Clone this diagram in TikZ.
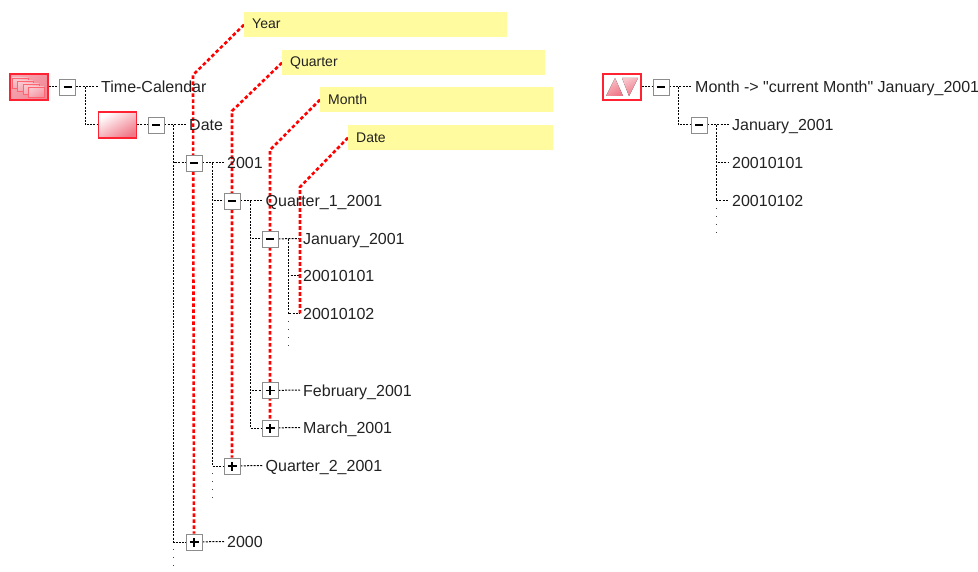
\documentclass[tikz,border=0pt]{standalone}
\usepackage{fontspec}
\newfontfamily\lsans{Liberation Sans}
\usetikzlibrary{backgrounds}
\definecolor{ink}{HTML}{222222}
\definecolor{yel}{HTML}{FFFB9E}
\definecolor{iconred}{HTML}{FF2233}
\definecolor{iconpink}{HTML}{F07888}
\tikzset{
  lab/.style={anchor=west,inner xsep=3pt,inner ysep=0pt,text height=12pt,text depth=0pt,font=\lsans\fontsize{16}{16}\selectfont,text=ink},
  tog/.style={draw=black!45,line width=.9pt,fill=white,minimum size=16pt,inner sep=0pt},
  icon/.style={draw=iconred,line width=1.3pt,minimum width=38pt,minimum height=26pt,inner sep=0pt},
  tree/.style={black,line width=1pt,dash pattern=on 2pt off 1.3pt},
  tail/.style={black!75,line width=1pt,dash pattern=on 1pt off 7pt},
  redl/.style={red,line width=2.6pt,dash pattern=on 3.6pt off 2.4pt},
  yl/.style={fill=yel,anchor=north west,minimum height=25pt,inner xsep=8pt,inner ysep=0pt,text height=10pt,text depth=3pt,align=left,font=\lsans\fontsize{14}{14}\selectfont,text=ink},
  yllow/.style={yl,text height=12pt},
  ghost/.style={draw=iconred!70,line width=.6pt,left color=white!60!iconpink,right color=iconpink!80,shading angle=30}
}
\newcommand{\minusmark}[1]{\draw[black,line width=1.8pt] ([xshift=-4pt]#1.center) -- ([xshift=4pt]#1.center);}
\newcommand{\plusmark}[1]{\draw[black,line width=1.8pt] ([xshift=-4.5pt]#1.center) -- ([xshift=4.5pt]#1.center) ([yshift=-4.5pt]#1.center) -- ([yshift=4.5pt]#1.center);}
\begin{document}
\begin{tikzpicture}[x=1pt,y=-1pt]
\useasboundingbox (0,0) rectangle (978,572);
% yellow labels
\node[yl,text width=247pt] (lyear) at (244,12) {Year};
\node[yl,text width=247pt] (lquarter) at (282,50) {Quarter};
\node[yllow,text width=217pt] (lmonth) at (320,87) {Month};
\node[yllow,text width=189pt] (ldate) at (348,125) {Date};
% icons
\node[icon,left color=iconpink!65,right color=iconpink!90,shading angle=45] (iroot) at (29,87) {};
\node[icon,left color=white,right color=iconpink,shading angle=30] (idate) at (117.5,125) {};
\node[icon,fill=white] (imonth) at (622,87) {};
% toggles
\node[tog] (broot) at (67.5,87) {};
\node[tog] (bdate) at (156,125) {};
\node[tog] (b2001) at (194,163) {};
\node[tog] (bq1) at (232,201) {};
\node[tog] (bjan) at (270,239) {};
\node[tog] (bfeb) at (270,390.5) {};
\node[tog] (bmar) at (270,428) {};
\node[tog] (bq2) at (232,466) {};
\node[tog] (b2000) at (194,542) {};
\node[tog] (brm) at (661,87) {};
\node[tog] (brj) at (699,125) {};
\foreach \n in {broot,bdate,b2001,bq1,bjan,brm,brj} {\minusmark{\n}}
\foreach \n in {bfeb,bmar,bq2,b2000} {\plusmark{\n}}
% text
\node[lab] (ttime) at (98,87) {Time-Calendar};
\node[lab] (tdate) at (186,125) {Date};
\node[lab] (t2001) at (224,163) {2001};
\node[lab] (tq1) at (262.5,201) {Quarter\_1\_2001};
\node[lab] (tjan) at (300,238.5) {January\_2001};
\node[lab] (td1) at (300,276) {20010101};
\node[lab] (td2) at (300,313.5) {20010102};
\node[lab] (tfeb) at (300,390) {February\_2001};
\node[lab] (tmar) at (300,427.5) {March\_2001};
\node[lab] (tq2) at (262.5,465.5) {Quarter\_2\_2001};
\node[lab] (t2000) at (224,541.5) {2000};
\node[lab] (trm) at (692,87) {Month -> "current Month" January\_2001};
\node[lab] (trj) at (729,125) {January\_2001};
\node[lab] (trd1) at (729,163) {20010101};
\node[lab] (trd2) at (729,201) {20010102};
% icon details
\foreach \dx/\dy in {-17/-9,-12/-6,-6/-3,-1/0} {
  \path[ghost] (iroot.center) ++(\dx,\dy) rectangle +(16,10.5);
}
\fill[left color=iconpink!45,right color=iconpink,shading angle=30] (imonth.center) ++(-16,9) -- ++(9,-18) -- ++(8,18) -- cycle;
\fill[left color=iconpink!45,right color=iconpink,shading angle=30] (imonth.center) ++(0,-9) -- ++(16,0) -- ++(-9,18) -- cycle;
\begin{scope}[on background layer]
  \coordinate (vroot) at (85,87);
  \coordinate (vdate) at (173.5,125);
  \coordinate (v2001) at (212,163);
  \coordinate (vq1) at (250,201);
  \coordinate (vjan) at (288,239);
  \coordinate (vrm) at (678,87);
  \coordinate (vrj) at (716,125);
  \coordinate (edate) at (173.5,572);
  \coordinate (e2001) at (212,502);
  \coordinate (ejan) at (288,350);
  \coordinate (erj) at (716,236);
  % tree
  \draw[tree] (iroot) -- (broot);
  \draw[tree] (broot) -- (ttime.west);
  \draw[tree] (vroot) |- (idate);
  \draw[tree] (idate) -- (bdate);
  \draw[tree] (bdate) -- (tdate.west);
  \draw[tree] (vdate) |- (b2001);
  \draw[tree] (vdate) |- (b2000);
  \draw[tree] (b2001) -- (t2001.west);
  \draw[tree] (v2001) |- (bq1);
  \draw[tree] (v2001) |- (bq2);
  \draw[tree] (bq1) -- (tq1.west);
  \draw[tree] (bq2) -- (tq2.west);
  \draw[tree] (vq1) |- (bjan);
  \draw[tree] (vq1) |- (bfeb);
  \draw[tree] (vq1) |- (bmar);
  \draw[tree] (bjan) -- (tjan.west);
  \draw[tree] (bfeb) -- (tfeb.west);
  \draw[tree] (bmar) -- (tmar.west);
  \draw[tree] (vjan) |- (td1.west);
  \draw[tree] (vjan) |- (td2.west);
  \draw[tree] (b2000) -- (t2000.west);
  \draw[tree] (imonth) -- (brm);
  \draw[tree] (brm) -- (trm.west);
  \draw[tree] (vrm) |- (brj);
  \draw[tree] (brj) -- (trj.west);
  \draw[tree] (vrj) |- (trd1.west);
  \draw[tree] (vrj) |- (trd2.west);
  % tails
  \draw[tail] (173.5,549) -- (edate);
  \draw[tail] (212,473) -- (e2001);
  \draw[tail] (288,321) -- (ejan);
  \draw[tail] (716,208) -- (erj);
  % callouts
  \coordinate (ry) at (193,75);
  \coordinate (rq) at (232,111);
  \coordinate (rm) at (270,150);
  \coordinate (rd) at (300,187);
  \draw[redl] (lyear.west) -- (ry) -- (b2000.north);
  \draw[redl] (lquarter.west) -- (rq) -- (bq2.north);
  \draw[redl] (lmonth.west) -- (rm) -- (bmar.north);
  \draw[redl] (ldate.west) -- (rd) -- (td2.west);
\end{scope}
\end{tikzpicture}
\end{document}
